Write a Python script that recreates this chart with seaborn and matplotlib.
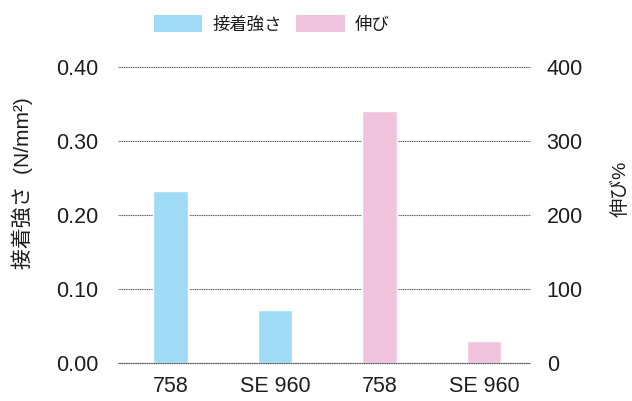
import matplotlib
matplotlib.use("Agg")
import matplotlib.pyplot as plt
import seaborn as sns
import pandas as pd
from matplotlib.patches import Patch

sns.set_theme(style="white")
plt.rcParams['font.family'] = ['Liberation Sans', 'Noto Sans CJK JP', 'DejaVu Sans']

# data
cat_ids = ["s758", "sSE960", "e758", "eSE960"]
tick_labels = ["758", "SE 960", "758", "SE 960"]
strength_cats = ["s758", "sSE960"]
strength = [0.232, 0.072]          # 接着強さ (N/mm²)
elong_cats = ["e758", "eSE960"]
elongation = [340, 30]             # 伸び %
left_ticks = [0.0, 0.1, 0.2, 0.3, 0.4]
right_ticks = [0, 100, 200, 300, 400]

blue = "#9fdbf5"
pink = "#f1c4de"
gridc = "#555555"
textc = "#1e1e1e"

fig = plt.figure(figsize=(6.32, 4.01), dpi=100)
ax = fig.add_axes([118/632, 1-363/401, (530-118)/632, (363-67)/401])
ax2 = ax.twinx()

df1 = pd.DataFrame({"cat": strength_cats, "val": strength})
df2 = pd.DataFrame({"cat": elong_cats, "val": elongation})
sns.barplot(data=df1, x="cat", y="val", order=cat_ids, color=blue, width=0.33,
            saturation=1, ax=ax)
sns.barplot(data=df2, x="cat", y="val", order=cat_ids, color=pink, width=0.33,
            saturation=1, ax=ax2)

for a in (ax, ax2):
    a.set_xlim(-0.5, 3.44)
    for s in a.spines.values():
        s.set_visible(False)
    a.set_xlabel("")
    a.grid(False)

ax.set_ylim(0, 0.4)
ax2.set_ylim(0, 400)
ax.set_yticks(left_ticks)
ax.set_yticklabels([f"{v:.2f}" for v in left_ticks])
ax2.set_yticks(right_ticks)
ax2.set_yticklabels([str(v) for v in right_ticks])
ax.set_xticks(range(len(cat_ids)))
ax.set_xticklabels(tick_labels)

for v in left_ticks:
    ax.axhline(v, color=gridc, lw=0.8, ls=(0, (1, 0.6)), zorder=0.5, clip_on=False)
ax2.axhline(0, color=gridc, lw=0.8, ls=(0, (1, 0.6)), zorder=5, clip_on=False)
ax.set_axisbelow(True)

ax.tick_params(axis="both", length=0, labelsize=15.5, colors=textc)
ax.tick_params(axis="y", pad=14)
ax.tick_params(axis="x", pad=9)
ax2.tick_params(axis="y", length=0, labelsize=15.5, colors=textc, pad=12)

ax.set_ylabel("接着強さ  (N/mm²)", fontsize=15, color=textc)
ax.yaxis.set_label_coords(-0.207, 0.606)
ax2.set_ylabel("伸び%", fontsize=14, color=textc, rotation=90)
ax2.yaxis.set_label_coords(1.197, 0.59)

handles = [Patch(facecolor=blue, edgecolor="none"), Patch(facecolor=pink, edgecolor="none")]
fig.legend(handles, ["接着強さ", "伸び"], loc="center", bbox_to_anchor=(0.43, 0.94),
           ncol=2, frameon=False, fontsize=12.5, handlelength=2.8, handleheight=1.1,
           columnspacing=0.8, handletextpad=0.6, labelcolor=textc)

fig.savefig("out.png", dpi=100)
